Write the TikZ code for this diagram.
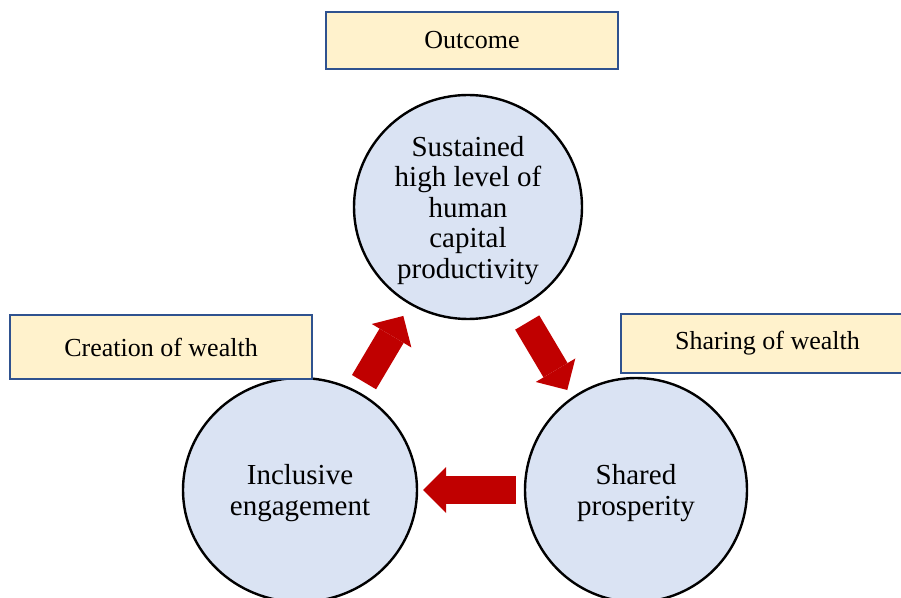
\documentclass[tikz,border=0pt]{standalone}
\usepackage{fontspec}
\setmainfont{Liberation Serif}
\usetikzlibrary{arrows.meta, positioning, shapes.geometric}
\definecolor{tagfill}{HTML}{FFF2CC}
\definecolor{tagline}{HTML}{2F528F}
\definecolor{hubfill}{HTML}{DAE3F3}
\definecolor{flowred}{HTML}{C00000}
\tikzset{
    cyclediagram/.style={x=1pt, y=1pt},
    tagbox/.style={draw=tagline, fill=tagfill, line width=2pt, inner sep=0pt, font=\fontsize{26}{30}\selectfont},
    hub/.style={ellipse, draw, fill=hubfill, line width=2.4pt, inner sep=0pt, align=center, minimum height=224pt, font=\fontsize{29}{30.5}\selectfont},
    % thick block arrow between two hubs
    flow/.style={draw=flowred, line width=28pt, -{Triangle[length=23pt, width=46pt, line width=0pt]}},
}

\begin{document}
\begin{tikzpicture}[cyclediagram]
    \useasboundingbox (0,0) rectangle (901,597);

    \node[hub, minimum width=228pt, text height=149pt] (sust) at (468,390) {Sustained\\high level of\\human\\capital\\productivity};
    \node[hub, minimum width=234pt, text height=57pt] (incl) at (300,107) {Inclusive\\engagement};
    \node[hub, minimum width=222pt, text height=57pt] (shar) at (636,107) {Shared\\prosperity};

    \node[tagbox, minimum width=292pt, minimum height=57pt, above=24pt of sust, xshift=4pt] (outcome) {Outcome};
    \node[tagbox, minimum width=302pt, minimum height=64pt] (create) at (161,250) {Creation of wealth};
    \node[tagbox, minimum width=293pt, minimum height=59pt] (share) at (767.5,253.5) {Sharing of wealth};

    \draw[flow, shorten <=11pt, shorten >=13pt] (incl) -- (sust);
    \draw[flow, shorten <=16pt, shorten >=8pt, transform canvas={shift={(-7pt,-4pt)}}] (sust) -- (shar);
    \draw[flow, shorten <=8pt, shorten >=5pt] (shar) -- (incl);
\end{tikzpicture}
\end{document}
